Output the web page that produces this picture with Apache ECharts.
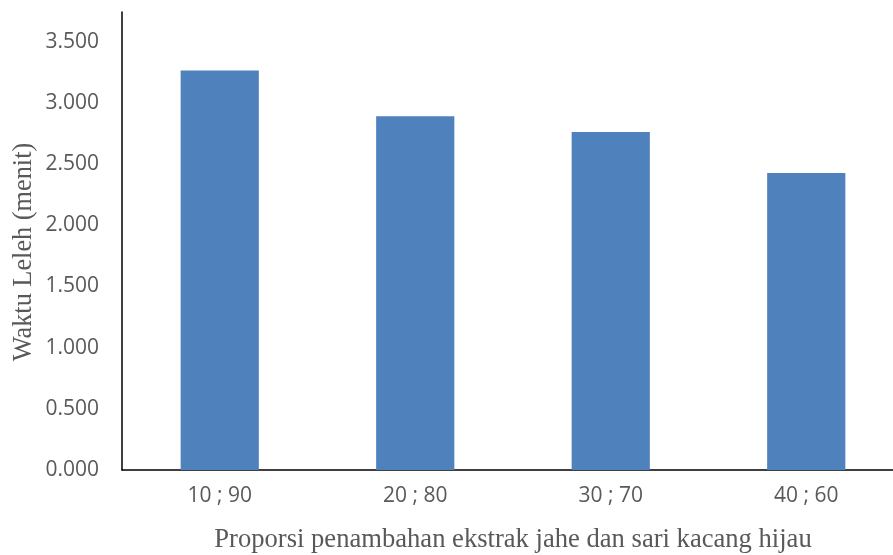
<!DOCTYPE html>
<html>
<head>
<meta charset="utf-8">
<script src="https://cdn.jsdelivr.net/npm/echarts@6/dist/echarts.min.js"></script>
<style>
  html, body { margin: 0; padding: 0; background: #ffffff; }
  #chart { width: 893px; height: 555px; }
</style>
</head>
<body>
<div id="chart"></div>
<script>
// Melting time per ginger-extract : mung-bean-juice proportion
const categories = ['10 ; 90', '20 ; 80', '30 ; 70', '40 ; 60'];
const meltTime = [3.265, 2.89, 2.761, 2.426];
const yTickStep = 0.5;
const yMax = 3.742;
const xTitle = 'Proporsi penambahan ekstrak jahe dan sari kacang hijau';
const yTitle = 'Waktu Leleh (menit)';

const chart = echarts.init(document.getElementById('chart'), null, { renderer: 'canvas' });

chart.setOption({
  animation: false,
  backgroundColor: '#ffffff',
  grid: {
    left: 122,
    top: 12,
    width: 782,
    height: 458,
    containLabel: false,
    outerBoundsMode: 'none'
  },
  xAxis: {
    type: 'category',
    data: categories,
    axisLine: { show: true, lineStyle: { color: '#000000', width: 1.5 } },
    axisTick: { show: false },
    axisLabel: {
      margin: 16,
      color: '#595959',
      fontFamily: 'Open Sans',
      fontSize: 21
    },
    splitLine: { show: false }
  },
  yAxis: {
    type: 'value',
    min: 0,
    max: yMax,
    interval: yTickStep,
    axisLine: { show: true, lineStyle: { color: '#000000', width: 1.5 } },
    axisTick: { show: false },
    splitLine: { show: false },
    axisLabel: {
      margin: 23,
      color: '#595959',
      fontFamily: 'Open Sans',
      fontSize: 21,
      showMaxLabel: false,
      formatter: function (v) {
        const k = v / yTickStep;
        return Math.abs(k - Math.round(k)) < 1e-6 ? v.toFixed(3) : '';
      }
    }
  },
  series: [{
    type: 'bar',
    data: meltTime,
    barWidth: '40%',
    itemStyle: { color: '#4F81BD' }
  }],
  graphic: [
    {
      type: 'text',
      x: 513,
      y: 540,
      style: {
        text: xTitle,
        fill: '#595959',
        font: '26.6px "Liberation Serif"',
        textAlign: 'center',
        textVerticalAlign: 'middle'
      }
    },
    {
      type: 'text',
      x: 24,
      y: 252,
      rotation: Math.PI / 2,
      style: {
        text: yTitle,
        fill: '#595959',
        font: '26.3px "Liberation Serif"',
        textAlign: 'center',
        textVerticalAlign: 'middle'
      }
    }
  ]
});
</script>
</body>
</html>
